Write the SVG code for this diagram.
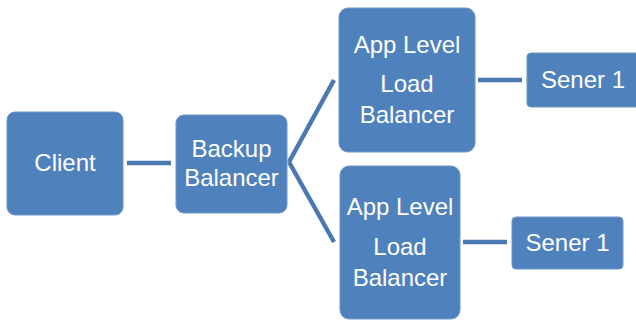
<svg xmlns="http://www.w3.org/2000/svg" width="636" height="320" viewBox="0 0 636 320">
<style>
.box{fill:#4F81BD;stroke:#6E97C9;stroke-width:1}
.t{fill:#ffffff;font-family:"Liberation Sans",Arial,sans-serif;font-size:24px;text-anchor:middle}
.c{stroke:#4A78B0;stroke-width:4.5;fill:none}
</style>
<rect width="636" height="320" fill="#ffffff"/>
<g id="connectors">
<line class="c" x1="127" y1="163" x2="171" y2="163"/>
<line class="c" x1="289" y1="162" x2="334" y2="80"/>
<line class="c" x1="289" y1="162" x2="334" y2="242"/>
<line class="c" x1="478" y1="80" x2="522" y2="80"/>
<line class="c" x1="463" y1="242" x2="507" y2="242"/>
</g>
<g id="client">
<rect class="box" x="7" y="112" width="116" height="103" rx="8"/>
<text class="t" x="65" y="171">Client</text>
</g>
<g id="backup">
<rect class="box" x="176" y="115" width="111" height="98" rx="8"/>
<text class="t" x="231.5" y="157">Backup</text>
<text class="t" x="231.5" y="186">Balancer</text>
</g>
<g id="app1">
<rect class="box" x="339" y="8" width="136" height="144" rx="9"/>
<text class="t" x="407" y="53">App Level</text>
<text class="t" x="407" y="92">Load</text>
<text class="t" x="407" y="123">Balancer</text>
</g>
<g id="app2">
<rect class="box" x="340" y="166" width="120" height="153" rx="9"/>
<text class="t" x="400" y="215">App Level</text>
<text class="t" x="400" y="255">Load</text>
<text class="t" x="400" y="286">Balancer</text>
</g>
<g id="server1">
<rect class="box" x="527" y="53" width="115" height="54" rx="4"/>
<text class="t" x="583" y="88">Sener 1</text>
</g>
<g id="server2">
<rect class="box" x="512" y="217" width="111" height="52" rx="4"/>
<text class="t" x="567.5" y="251">Sener 1</text>
</g>
</svg>
